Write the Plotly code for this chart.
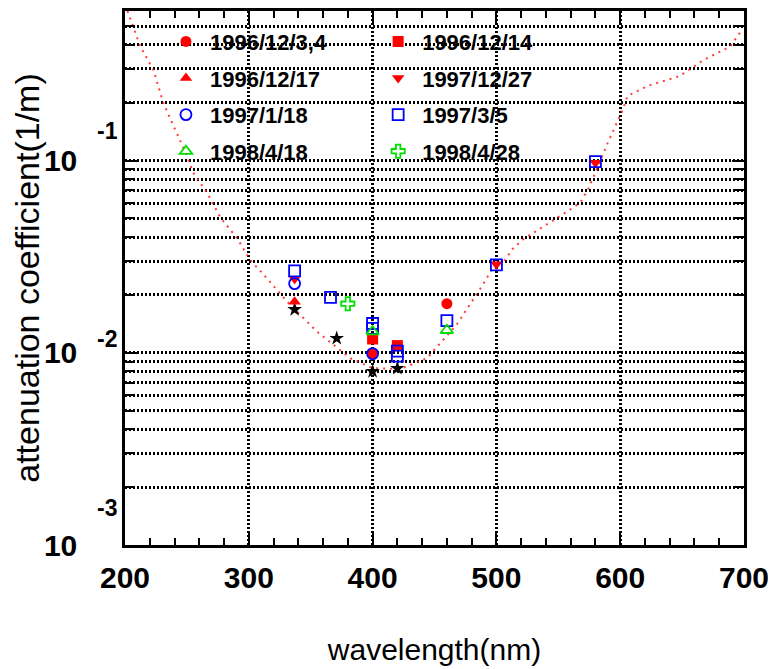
import math
import plotly.graph_objects as go

# wavelength (nm) of the fitted curve and its attenuation coefficient (1/m)
curve_wl = [202, 212, 223, 231, 250, 255, 266, 277, 291, 301, 312, 331, 355, 382, 400,
            422, 444, 468, 489, 500, 505, 513, 522, 535, 546, 560, 568, 574, 580, 589,
            602, 606, 622, 648, 667, 689, 698]
curve_att = [0.60, 0.398, 0.295, 0.199, 0.106, 0.0867, 0.0684, 0.0507, 0.0391, 0.0304,
             0.0255, 0.01845, 0.0129, 0.00937, 0.00832, 0.00822, 0.00937, 0.01403, 0.0226,
             0.0297, 0.0290, 0.0347, 0.0391, 0.0440, 0.0489, 0.0558, 0.0607, 0.0708, 0.0867,
             0.1196, 0.1837, 0.217, 0.2443, 0.275, 0.3325, 0.393, 0.475]

# measurements per date
d961203_wl = [400, 460]
d961203_att = [0.0099, 0.0180]
d961214_wl = [400, 420]
d961214_att = [0.0118, 0.0109]
d961217_wl = [337]
d961217_att = [0.01845]
d971227_wl = [337, 500, 580]
d971227_att = [0.0243, 0.0289, 0.0975]
d970118_wl = [337, 400]
d970118_att = [0.0229, 0.0099]
d970305_wl = [337, 366, 400, 400, 420, 420, 460, 500, 580]
d970305_att = [0.0267, 0.0194, 0.0142, 0.0134, 0.0102, 0.0096, 0.0147, 0.0287, 0.0988]
d980418_wl = [400, 460]
d980418_att = [0.0129, 0.0131]
d980428_wl = [380]
d980428_att = [0.0180]
star_wl = [337, 371, 400, 420]
star_att = [0.0168, 0.0119, 0.0080, 0.0083]

y_major = [1e-3, 1e-2, 1e-1]
y_major_text = ['10', '10', '10']
y_exp_text = ['-3', '-2', '-1']

RED = '#ff0000'
BLUE = '#0000ff'
GREEN = '#00e000'

fig = go.Figure()

# dotted red curve
fig.add_trace(go.Scatter(x=curve_wl, y=curve_att, mode='lines', showlegend=False,
                         line=dict(color='rgba(255,40,40,0.9)', width=2, dash='2px,5px')))

# stars (no legend entry)
fig.add_trace(go.Scatter(x=star_wl, y=star_att, mode='markers', showlegend=False,
                         marker=dict(symbol='star', size=11, color='black')))

series = [
    ('1996/12/3,4', d961203_wl, d961203_att, 'circle', RED, 'legend'),
    ('1996/12/14', d961214_wl, d961214_att, 'square', RED, 'legend2'),
    ('1996/12/17', d961217_wl, d961217_att, 'triangle-up', RED, 'legend'),
    ('1997/12/27', d971227_wl, d971227_att, 'triangle-down', RED, 'legend2'),
    ('1997/1/18', d970118_wl, d970118_att, 'circle-open', BLUE, 'legend'),
    ('1997/3/5', d970305_wl, d970305_att, 'square-open', BLUE, 'legend2'),
    ('1998/4/18', d980418_wl, d980418_att, 'triangle-up-open', GREEN, 'legend'),
    ('1998/4/28', d980428_wl, d980428_att, 'cross-open', GREEN, 'legend2'),
]

for i, (name, xs, ys, sym, col, lg) in enumerate(series):
    mk = dict(symbol=sym, size=11, color=col)
    if sym.endswith('open'):
        mk['line'] = dict(color=col, width=1.8)
    fig.add_trace(go.Scatter(x=xs, y=ys, mode='markers', name=name, marker=mk,
                             legend=lg, legendgroup='g%d' % i))

# exponents of the y tick labels
exp_shift = [37, 14, 30]
for val, ex, sh in zip(y_major, y_exp_text, exp_shift):
    fig.add_annotation(x=-0.029, y=math.log10(val), xref='paper', yref='y', text=ex,
                       showarrow=False, xanchor='center', yanchor='middle', yshift=sh,
                       font=dict(family='Arial', size=23, color='black', weight='bold'))

y_minor = [k * 10 ** e for e in (-3, -2, -1) for k in range(2, 10) if k * 10 ** e <= 0.6]

leg_font = dict(family='Arial', size=22, color='black', weight='bold')
fig.update_layout(
    width=768, height=661,
    margin=dict(l=117, r=32, t=0, b=124),
    paper_bgcolor='white', plot_bgcolor='white',
    font=dict(family='Arial', color='black'),
    showlegend=True,
    legend=dict(x=0.0597, y=0.982, xanchor='left', yanchor='top', tracegroupgap=5,
                itemwidth=38, bgcolor='rgba(0,0,0,0)', font=leg_font),
    legend2=dict(x=0.4025, y=0.982, xanchor='left', yanchor='top', tracegroupgap=5,
                 itemwidth=38, bgcolor='rgba(0,0,0,0)', font=leg_font),
    xaxis=dict(
        range=[200, 700], dtick=100, tick0=200,
        showline=True, linecolor='black', linewidth=2.5, mirror='allticks',
        ticks='inside', ticklen=12, tickwidth=2, tickcolor='black',
        showgrid=True, gridcolor='black', gridwidth=2.5, griddash='2px,2px',
        zeroline=False, ticklabelstandoff=4,
        tickfont=dict(family='Arial', size=30, color='black', weight='bold'),
        minor=dict(dtick=20, ticks='inside', ticklen=7, tickwidth=2, tickcolor='black',
                   showgrid=False),
        title=dict(text='wavelength(nm)', standoff=47,
                   font=dict(family='Arial', size=30, color='black')),
    ),
    yaxis=dict(
        type='log', range=[-3, -0.2218],
        tickvals=y_major, ticktext=y_major_text,
        showline=True, linecolor='black', linewidth=2.5, mirror='allticks',
        ticks='inside', ticklen=12, tickwidth=2, tickcolor='black',
        showgrid=True, gridcolor='black', gridwidth=2.5, griddash='2px,2px',
        zeroline=False, ticklabelstandoff=39,
        tickfont=dict(family='Arial', size=30, color='black', weight='bold'),
        minor=dict(tickvals=y_minor, ticks='inside', ticklen=10, tickwidth=2,
                   tickcolor='black', showgrid=True, gridcolor='black', gridwidth=2.5,
                   griddash='2px,2px'),
        title=dict(text='attenuation coefficient(1/m)', standoff=4,
                   font=dict(family='Arial', size=34, color='black')),
    ),
)

fig.write_html("out.html")
